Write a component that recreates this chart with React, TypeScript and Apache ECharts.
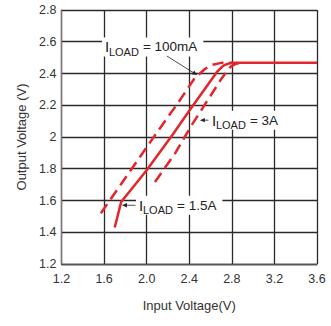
import React, { useEffect, useRef } from "react";
import * as echarts from "echarts";

// ---- data ----
const xTicks = [1.2, 1.6, 2.0, 2.4, 2.8, 3.2, 3.6];
const yTicks = [1.2, 1.4, 1.6, 1.8, 2, 2.2, 2.4, 2.6, 2.8];

// I_LOAD = 1.5A (solid)
const solidX = [1.70, 1.76, 2.0, 2.25, 2.4, 2.66, 2.72, 2.77, 2.82, 3.6];
const solidY = [1.43, 1.59, 1.79, 2.02, 2.165, 2.41, 2.45, 2.463, 2.467, 2.467];

// I_LOAD = 100mA (dashed, left)
const lowX = [1.57, 1.69, 1.83, 1.94, 2.08, 2.30, 2.45, 2.55, 2.62, 2.70, 2.80];
const lowY = [1.52, 1.636, 1.771, 1.877, 2.013, 2.22, 2.37, 2.43, 2.455, 2.467, 2.467];

// I_LOAD = 3A (dashed, right)
const highX = [2.078, 2.266, 2.422, 2.60, 2.70, 2.75, 2.79, 2.84, 2.90];
const highY = [1.717, 1.896, 2.074, 2.26, 2.365, 2.41, 2.443, 2.462, 2.467];

// annotations: label anchor (data), arrow tail -> tip (data)
const labels = [
  { rest: "= 100mA", at: [1.608, 2.567], tail: [2.19, 2.51], tip: [2.475, 2.39] },
  { rest: "= 3A", at: [2.613, 2.106], tail: [2.58, 2.106], tip: [2.50, 2.106] },
  { rest: "= 1.5A", at: [1.928, 1.57], tail: [1.895, 1.57], tip: [1.768, 1.57] },
];

const RED = "#e2262b";
const FONT = "Liberation Sans, Arial, sans-serif";

const zip = (xs: number[], ys: number[]) => xs.map((x, i) => [x, ys[i]]);

function measure(text: string, size: number) {
  const c = document.createElement("canvas").getContext("2d");
  if (!c) return text.length * size * 0.55;
  c.font = `${size}px ${FONT}`;
  return c.measureText(text).width;
}

export default function App() {
  const ref = useRef<HTMLDivElement>(null);
  useEffect(() => {
    if (!ref.current) return;
    const chart = echarts.init(ref.current, undefined, { renderer: "svg" });
    const axisLabel = { color: "#333", fontSize: 12.5, fontFamily: FONT };
    const split = { show: true, lineStyle: { color: "#2a2a2a", width: 1.3 } };
    chart.setOption({
      animation: false,
      grid: { left: 61.5, right: 14, top: 10, bottom: 62 },
      xAxis: {
        type: "value",
        min: xTicks[0],
        max: xTicks[xTicks.length - 1],
        interval: 0.4,
        name: "Input Voltage(V)",
        nameLocation: "middle",
        nameGap: 35,
        nameTextStyle: { color: "#333", fontSize: 13, fontFamily: FONT },
        axisLine: { lineStyle: { color: "#555", width: 1.3 } },
        axisTick: { show: false },
        axisLabel: { ...axisLabel, margin: 8, formatter: (v: number) => v.toFixed(1) },
        splitLine: split,
      },
      yAxis: {
        type: "value",
        min: yTicks[0],
        max: yTicks[yTicks.length - 1],
        interval: 0.2,
        name: "Output Voltage (V)",
        nameLocation: "middle",
        nameGap: 31,
        nameTextStyle: { color: "#333", fontSize: 13, fontFamily: FONT },
        axisLine: { lineStyle: { color: "#777", width: 1.3 } },
        axisTick: { show: false },
        axisLabel: { ...axisLabel, margin: 5, formatter: (v: number) => String(Math.round(v * 10) / 10) },
        splitLine: split,
      },
      series: [
        { type: "line", data: zip(solidX, solidY), showSymbol: false, symbol: "none", lineStyle: { color: RED, width: 2.5 } },
        { type: "line", data: zip(lowX, lowY), showSymbol: false, symbol: "none", lineStyle: { color: RED, width: 2.5, type: [11, 6] } },
        { type: "line", data: zip(highX, highY), showSymbol: false, symbol: "none", lineStyle: { color: RED, width: 2.5, type: [11, 6] } },
      ],
    });

    const px = (p: number[]) => chart.convertToPixel({ gridIndex: 0 }, p) as number[];
    const elements: any[] = [];
    labels.forEach((l) => {
      const [x0, y0] = px(l.at);
      const restW = measure(l.rest, 13.5);
      const restX = x0 + 38;
      elements.push({
        type: "rect",
        shape: { x: x0 - 3, y: y0 - 9.5, width: restX + restW + 6 - (x0 - 3), height: 19 },
        style: { fill: "#fff" },
        z: 10,
      });
      elements.push({ type: "text", x: x0, y: y0, z: 11, style: { text: "I", fontSize: 15, fontFamily: FONT, fill: "#222", verticalAlign: "middle", align: "left" } });
      elements.push({ type: "text", x: x0 + 4, y: y0 + 5, z: 11, style: { text: "LOAD", fontSize: 11, fontFamily: FONT, fill: "#222", verticalAlign: "middle", align: "left" } });
      elements.push({ type: "text", x: restX, y: y0, z: 11, style: { text: l.rest, fontSize: 13.5, fontFamily: FONT, fill: "#222", verticalAlign: "middle", align: "left" } });
      const [tx, ty] = px(l.tail);
      const [hx, hy] = px(l.tip);
      const dx = hx - tx, dy = hy - ty;
      const len = Math.hypot(dx, dy) || 1;
      const ux = dx / len, uy = dy / len;
      const al = 5, aw = 2.2;
      const bx = hx - ux * al, by = hy - uy * al;
      elements.push({ type: "line", z: 11, shape: { x1: tx, y1: ty, x2: bx, y2: by }, style: { stroke: "#222", lineWidth: 0.8 } });
      elements.push({
        type: "polygon",
        z: 11,
        shape: { points: [[hx, hy], [bx - uy * aw, by + ux * aw], [bx + uy * aw, by - ux * aw]] },
        style: { fill: "#222" },
      });
    });
    chart.setOption({ graphic: elements });
    return () => chart.dispose();
  }, []);
  return <div ref={ref} style={{ width: 331, height: 326, position: "absolute", left: 0, top: 0 }} />;
}
